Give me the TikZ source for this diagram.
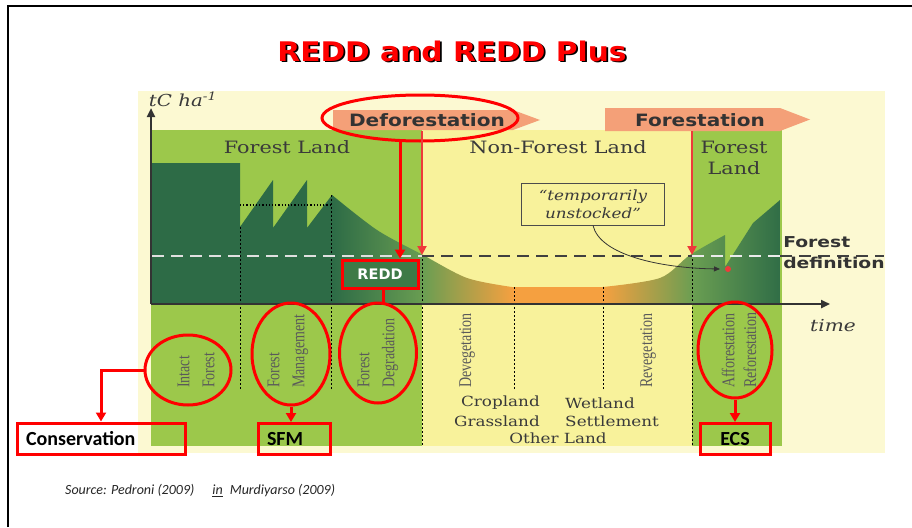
\documentclass[tikz,border=0pt]{standalone}
\usepackage{fontspec}
\setmainfont{DejaVu Serif}
\newfontfamily\tnr{Liberation Serif}
\newfontfamily\dvs{DejaVu Sans}
\newfontfamily\carl{Carlito}
\usetikzlibrary{shapes.geometric,arrows.meta}
\definecolor{bgY}{HTML}{FCF9D2}
\definecolor{lgreen}{HTML}{9CC84B}
\definecolor{nfY}{HTML}{F8F29B}
\definecolor{dgreen}{HTML}{2D6B46}
\definecolor{midg}{HTML}{6A9E52}
\definecolor{orangeC}{HTML}{F5A040}
\definecolor{salmon}{HTML}{F4A078}
\definecolor{txtG}{HTML}{3A3A3A}
\definecolor{rotG}{HTML}{5A5A5A}
\definecolor{txtD}{HTML}{333333}
\definecolor{lred}{HTML}{EE3A3A}
\definecolor{reddG}{HTML}{3E7A47}
\begin{document}
\begin{tikzpicture}[x=1pt,y=-1pt,
  lbl/.style={font=\fontsize{17}{21}\selectfont, text=txtG, xscale=1.22, align=center, inner sep=0pt},
  small/.style={font=\fontsize{14}{18}\selectfont, text=txtG, xscale=1.2, inner sep=0pt},
  rot/.style={font=\tnr\fontsize{14}{19.5}\selectfont, text=rotG, rotate=90, yscale=1.28, anchor=west, align=left, inner sep=0pt},
  bsans/.style={font=\dvs\bfseries\fontsize{17}{20}\selectfont, text=txtD, xscale=1.18, inner sep=0pt},
  redE/.style={ellipse, draw=red, line width=3pt, inner sep=0pt},
  redB/.style={draw=red, line width=3pt, inner ysep=0pt, minimum height=31pt, font=\carl\bfseries\fontsize{20}{24}\selectfont},
  redArr/.style={red, line width=3pt, -{Triangle[length=9pt,width=10pt]}},
  lredArr/.style={lred, line width=2pt, -{Triangle[length=9pt,width=9pt]}},
  axis/.style={txtD, line width=2.5pt, -{Triangle[length=9pt,width=8pt]}},
  vline/.style={black, line width=0.7pt, dash pattern=on 2pt off 2pt},
  fdef/.style={line width=2pt, dash pattern=on 12pt off 7pt}
]
\useasboundingbox (0,0) rectangle (912,527);
\fill[white] (0,0) rectangle (912,527);
% frame
\draw[line width=2pt, black] (8,527) -- (8,6) -- (912,6);
% title with shadow
\node[font=\dvs\bfseries\fontsize{27}{30}\selectfont, xscale=1.1, text=red, inner sep=0pt] (title) at (452,52)
  {\rlap{\hspace{1.6pt}\raisebox{-1.6pt}{\color{black}REDD and REDD Plus}}REDD and REDD Plus};
% background panel
\fill[bgY] (138,91) rectangle (885,453);
% land regions
\fill[lgreen] (151,130) rectangle (422,446);
\fill[nfY] (422,130) rectangle (692,446);
\fill[lgreen] (692,130) rectangle (782,446);
% carbon stock area
\begin{scope}
\clip (151,304) -- (151,163) -- (240,163) -- (240,227) -- (273,180) -- (273,228) -- (307,180) -- (307,228)
  -- plot[smooth, tension=0.5] coordinates {(332,195) (377,230) (423,255) (467,278) (512,287)}
  -- (603,287)
  -- plot[smooth, tension=0.5] coordinates {(603,287) (660,278) (690,255) (725,235)}
  -- (725,267) -- (753,223) -- (780,200) -- (780,304) -- cycle;
\fill[dgreen] (145,150) rectangle (333,310);
\shade[left color=dgreen, right color=midg] (332,150) rectangle (424,310);
\shade[left color=midg, right color=orangeC] (423,150) rectangle (513,310);
\fill[orangeC] (512,150) rectangle (604,310);
\shade[left color=orangeC, right color=midg] (603,150) rectangle (693,310);
\shade[left color=midg, right color=dgreen] (692,150) rectangle (785,310);
\end{scope}
% dotted guide lines
\draw[black, line width=1.2pt, dotted] (240,205) -- (331,205);
\draw[vline] (240,227) -- (240,390);
\draw[vline] (331,195) -- (331,390);
\draw[vline] (422,255) -- (422,446);
\draw[vline] (514,287) -- (514,390);
\draw[vline] (603,287) -- (603,390);
\draw[vline] (692,255) -- (692,446);
% forest definition line
\draw[fdef, color=black!12] (152,256) -- (422,256);
\draw[fdef, color=black!75] (422,256) -- (692,256);
\draw[fdef, color=black!8] (692,256) -- (780,256);
\draw[fdef, color=black!75] (780,256) -- (884,256);
\node[font=\dvs\bfseries\fontsize{15}{21}\selectfont, text=txtD, xscale=1.25, align=left, anchor=north west, inner sep=0pt] (fdefl) at (783,236) {Forest\\definition};
% axes
\coordinate (O) at (151,304);
\coordinate (Ytop) at (151,108);
\coordinate (Xend) at (830,304);
\draw[axis] (O) -- (Ytop);
\draw[axis] (O) -- (Xend);
\node[font=\itshape\fontsize{16.5}{18}\selectfont, text=txtG, xscale=1.2] (ylab) at (183,99) {tC ha\textsuperscript{-1}};
\node[font=\itshape\fontsize{16.5}{20}\selectfont, text=txtG, xscale=1.22] (xlab) at (833,326) {time};
% transition arrows
\fill[salmon] (333,110) -- (513,110) -- (540,120) -- (513,130) -- (333,130) -- cycle;
\node[bsans] (defT) at (427,120) {Deforestation};
\fill[salmon] (605,108) -- (780,108) -- (810,119.5) -- (780,131) -- (605,131) -- cycle;
\node[bsans] (forT) at (700,120) {Forestation};
% land labels
\node[lbl] (fl1) at (287,147) {Forest Land};
\node[lbl] (nfl) at (558,147) {Non-Forest Land};
\node[lbl] (fl2) at (734,158) {Forest\\Land};
% temporarily unstocked
\node[draw=black!70, line width=1pt, xscale=1.2, minimum width=119pt, minimum height=42pt, align=center, inner sep=0pt,
  font=\itshape\fontsize{14}{18}\selectfont, text=txtG] (tu) at (593,204) {“temporarily\\unstocked”};
\coordinate (dot) at (728,269);
\draw[black!80, line width=0.8pt, -{Triangle[length=6pt,width=5pt]}] (tu.south) .. controls (600,255) and (660,268) .. (720,269);
\fill[lred] (dot) circle (3);
% bottom band labels
\node[rot] (intT) at (196,388) {Intact\\Forest};
\node[rot] (fmT) at (288,388) {Forest\\Management};
\node[rot] (fdT) at (378,388) {Forest\\Degradation};
\node[rot] (devT) at (467,388) {Devegetation};
\node[rot] (revT) at (648,388) {Revegetation};
\node[rot, font=\tnr\fontsize{14}{17}\selectfont] (afT) at (739,388) {Afforestation\\Reforestation};
\node[small, anchor=east] (crop) at (540,403) {Cropland};
\node[small, anchor=east] (grass) at (540,421) {Grassland};
\node[small, anchor=west] (wet) at (565,403) {Wetland};
\node[small, anchor=west] (sett) at (565,421) {Settlement};
\node[small] (other) at (558,438) {Other Land};
% red annotations
\node[redE, minimum width=196pt, minimum height=46pt] (defE) at (420,118) {};
\node[draw=red, line width=3pt, fill=reddG, minimum width=76pt, minimum height=28pt, inner sep=0pt,
  text=white, font=\dvs\bfseries\fontsize{14.5}{17}\selectfont] (redd) at (380,274) {REDD};
\coordinate (dA) at (400,140);
\draw[redArr] (dA) -- (dA |- redd.north);
\coordinate (lA) at (422,131);
\coordinate (lB) at (422,255);
\draw[lredArr] (lA) -- (lB);
\coordinate (fA) at (692,131);
\coordinate (fB) at (692,255);
\draw[lredArr] (fA) -- (fB);
\node[redE, minimum width=86pt, minimum height=70pt] (intE) at (188,370) {};
\node[redE, minimum width=78pt, minimum height=102pt] (fmE) at (291,354) {};
\node[redE, minimum width=77pt, minimum height=100pt] (degE) at (378,353) {};
\node[redE, minimum width=74pt, minimum height=96pt] (afE) at (735,350) {};
\draw[red, line width=3pt] (redd.south -| 383,0) -- (383,303);
\node[redB, text width=150pt, inner xsep=9pt, align=left] (cons) at (101,438.5) {Conservation};
\node[redB, text width=54pt, inner xsep=9pt, align=left] (sfm) at (294,439) {SFM};
\node[redB, minimum width=70pt] (ecs) at (735,439) {ECS};
\draw[redArr] (intE.west) -| (cons.north);
\draw[redArr] (fmE.south) -- (fmE.south |- sfm.north);
\draw[redArr] (afE.south) -- (afE.south |- ecs.north);
% source
\node[anchor=west, font=\carl\itshape\fontsize{14}{16}\selectfont, text=black!85, inner sep=0pt] (src) at (65,491)
  {Source: Pedroni (2009)\hspace{18pt}\underline{in}\hspace{7pt}Murdiyarso (2009)};
\end{tikzpicture}
\end{document}
